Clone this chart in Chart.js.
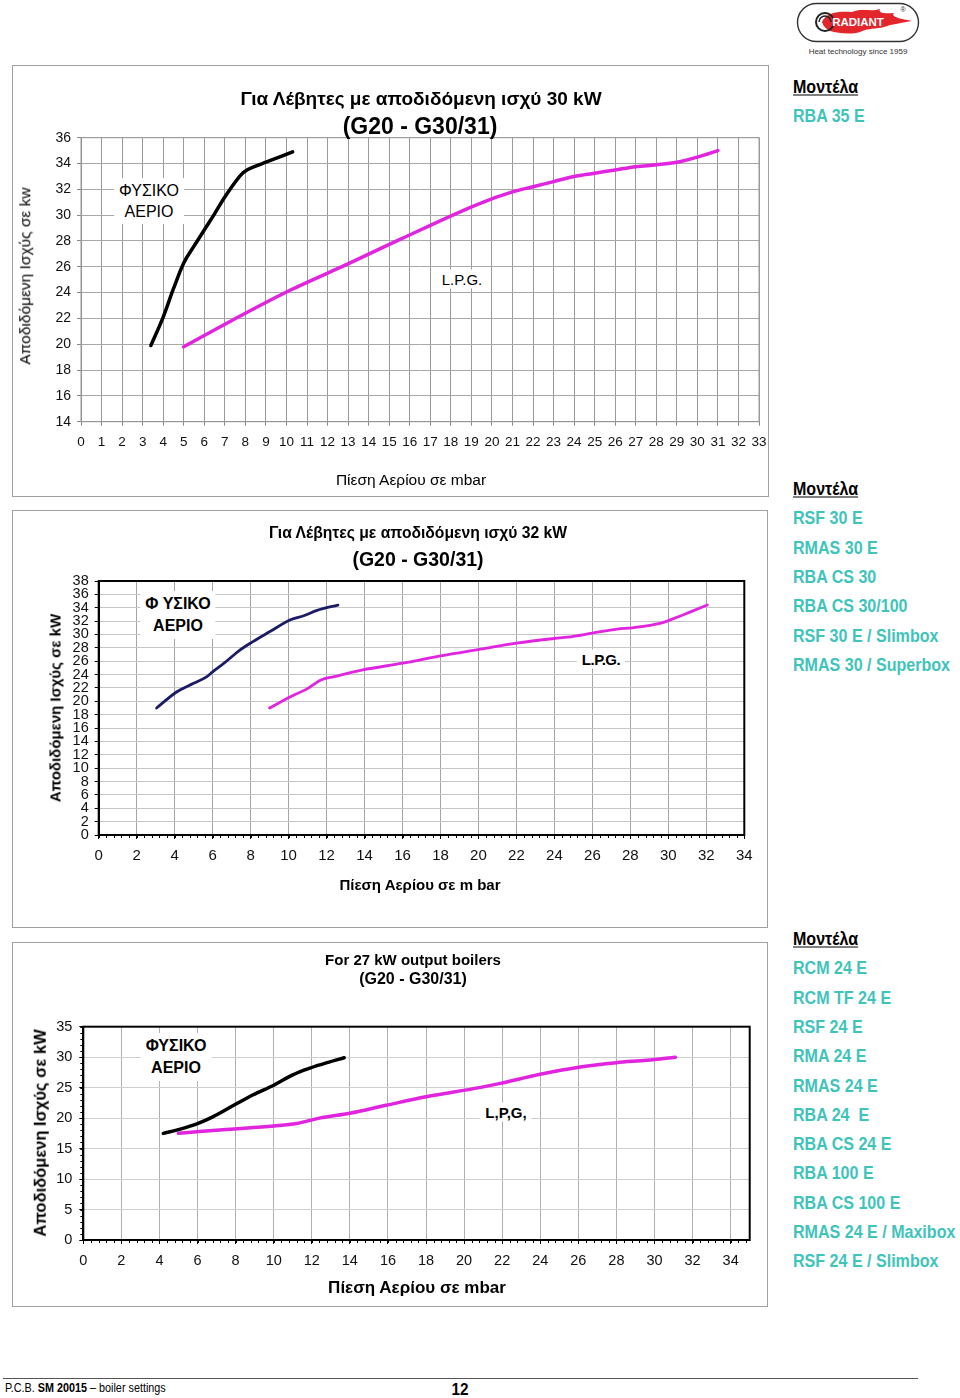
<!DOCTYPE html>
<html><head><meta charset="utf-8">
<script src="https://cdn.jsdelivr.net/npm/chart.js@4/dist/chart.umd.min.js"></script>
<style>
html,body{margin:0;padding:0;background:#fff}
body{width:960px;height:1398px;position:relative;overflow:hidden;font-family:"Liberation Sans",Arial,sans-serif;color:#000}
.frame{position:absolute;border:1px solid #a0a0a0;box-sizing:border-box}
.t{position:absolute;transform:translate(-50%,-50%);white-space:nowrap;line-height:1}
.b{font-weight:bold}
.lbl{background:#fff;padding:2px 5px}
.rot{transform:translate(-50%,-50%) rotate(-90deg)}
.m{position:absolute;left:793px;white-space:nowrap;line-height:1;font-weight:bold;font-size:19px;transform:translateY(-50%) scaleX(0.845);transform-origin:0 50%}
.mh{color:#000;text-decoration:underline;text-underline-offset:2px}
.mi{color:#3fc4bb}
canvas{position:absolute}
</style></head>
<body>

<!-- logo -->
<svg style="position:absolute;left:790px;top:0" width="140" height="60" viewBox="790 0 140 60">
  <rect x="797.5" y="3.5" width="121" height="38" rx="19" fill="#fff" stroke="#333" stroke-width="1.4"/>
  <path d="M822 22 C826 12,840 11,852 12 C862 8,872 12,880 9 C878 13,884 14,894 13 C890 17,902 19,912 21 C902 23,892 24,884 27 C876 29,868 28,860 32 C850 35,838 33,830 31 C826 29,823 26,822 22 Z" fill="#e3262c"/>
  <circle cx="825" cy="22" r="9" fill="none" stroke="#222" stroke-width="2"/>
  <path d="M819 22 a6 6 0 0 1 12 0" fill="none" stroke="#222" stroke-width="1.5"/>
  <text x="858" y="26" text-anchor="middle" font-family="Liberation Sans" font-weight="bold" font-size="11.5" fill="#fff">RADIANT</text>
  <text x="903" y="12" text-anchor="middle" font-family="Liberation Sans" font-size="7" fill="#333">®</text>
  <text x="858" y="54" text-anchor="middle" font-family="Liberation Sans" font-size="8" fill="#333">Heat technology since 1959</text>
</svg>

<div class="frame" style="left:12px;top:65px;width:757px;height:432px"></div>
<div class="frame" style="left:12px;top:510px;width:756px;height:418px"></div>
<div class="frame" style="left:12px;top:942px;width:756px;height:365px"></div>

<canvas id="c1" width="757" height="432" style="left:12px;top:65px"></canvas>
<canvas id="c2" width="756" height="418" style="left:12px;top:510px"></canvas>
<canvas id="c3" width="756" height="365" style="left:12px;top:942px"></canvas>

<!-- chart 1 texts -->
<div class="t b" style="left:421px;top:98px;font-size:19px">Για Λέβητες με αποδιδόμενη ισχύ 30 kW</div>
<div class="t b" style="left:420px;top:126px;font-size:23px">(G20 - G30/31)</div>
<div class="t rot" style="left:25px;top:276px;font-size:15.5px">Αποδιδόμενη Ισχύς σε kw</div>
<div class="t" style="left:411px;top:480px;font-size:15.5px">Πίεση Αερίου σε mbar</div>
<div class="t lbl" style="left:149px;top:201px;font-size:16px;text-align:center;line-height:21px">ΦΥΣΙΚΟ<br>ΑΕΡΙΟ</div>
<div class="t lbl" style="left:462px;top:279px;font-size:15px">L.P.G.</div>

<!-- chart 2 texts -->
<div class="t b" style="left:418px;top:533px;font-size:15.7px">Για Λέβητες με αποδιδόμενη ισχύ 32 kW</div>
<div class="t b" style="left:418px;top:560px;font-size:19.5px">(G20 - G30/31)</div>
<div class="t b rot" style="left:55px;top:708px;font-size:15px">Αποδιδόμενη Ισχύς σε kW</div>
<div class="t b" style="left:420px;top:884px;font-size:15px">Πίεση Αερίου σε m bar</div>
<div class="t b lbl" style="left:178px;top:615px;font-size:16px;text-align:center;line-height:22px">Φ ΥΣΙΚΟ<br>ΑΕΡΙΟ</div>
<div class="t b lbl" style="left:601px;top:659px;font-size:15px;letter-spacing:-0.5px">L.P.G.</div>

<!-- chart 3 texts -->
<div class="t b" style="left:413px;top:959px;font-size:15px">For 27 kW output boilers</div>
<div class="t b" style="left:413px;top:979px;font-size:16px">(G20 - G30/31)</div>
<div class="t b rot" style="left:40px;top:1133px;font-size:16.5px">Αποδιδόμενη Ισχύς σε kW</div>
<div class="t b" style="left:417px;top:1287px;font-size:17px">Πίεση Αερίου σε mbar</div>
<div class="t b lbl" style="left:176px;top:1057px;font-size:16px;text-align:center;line-height:22px">ΦΥΣΙΚΟ<br>ΑΕΡΙΟ</div>
<div class="t b lbl" style="left:506px;top:1112px;font-size:15px">L,P,G,</div>

<div id="models"></div>

<!-- footer -->
<div style="position:absolute;left:3px;top:1378px;width:915px;height:0;border-top:1.5px solid #555"></div>
<div style="position:absolute;left:5px;top:1381px;font-size:12px;white-space:nowrap;transform:scaleX(0.9);transform-origin:0 0">P.C.B. <b>SM 20015</b> – boiler settings</div>
<div class="t b" style="left:460px;top:1389px;font-size:17px;transform:translate(-50%,-50%) scaleX(0.9)">12</div>

<script>
// ---------- DATA ----------
// Chart 1 (30 kW)
const c1GasX = [3.4, 4.0, 4.5, 5.0, 5.5, 6.1, 6.5, 7.0, 7.9, 8.5, 9.0, 10.3];
const c1GasY = [19.9, 22.1, 24.3, 26.3, 27.6, 29.1, 30.1, 31.4, 33.3, 33.8, 34.1, 34.9];
const c1LpgX = [5.0, 8.0, 10.2, 13.1, 15.5, 19.4, 21.0, 22.0, 23.0, 24.0, 25.0, 26.0, 27.0, 28.0, 29.0, 30.0, 31.0];
const c1LpgY = [19.8, 22.4, 24.2, 26.3, 28.1, 30.9, 31.8, 32.2, 32.6, 33.0, 33.25, 33.5, 33.75, 33.9, 34.1, 34.5, 35.0];
// Chart 2 (32 kW)
const c2GasX = [3.05, 4.1, 5.0, 5.7, 6.0, 6.6, 7.4, 8.1, 9.0, 10.1, 10.8, 11.5, 12.6];
const c2GasY = [19.0, 21.4, 22.7, 23.7, 24.4, 25.7, 27.6, 28.9, 30.4, 32.2, 32.8, 33.6, 34.4];
const c2LpgX = [9.0, 10.1, 11.0, 11.7, 12.4, 13.9, 16.0, 18.0, 20.1, 22.0, 24.0, 24.7, 26.0, 27.3, 28.1, 29.6, 30.3, 31.1, 32.05];
const c2LpgY = [19.0, 20.7, 21.9, 23.2, 23.7, 24.7, 25.7, 26.8, 27.8, 28.7, 29.4, 29.6, 30.2, 30.8, 31.0, 31.7, 32.4, 33.3, 34.4];
// Chart 3 (27 kW)
const c3GasX = [4.2, 5.1, 6.0, 6.8, 7.9, 8.9, 10.0, 11.0, 11.9, 12.8, 13.7];
const c3GasY = [17.5, 18.2, 19.1, 20.2, 22.1, 23.8, 25.4, 27.1, 28.2, 29.1, 29.9];
const c3LpgX = [5.0, 6.1, 7.9, 10.0, 11.2, 12.4, 14.0, 15.9, 18.0, 20.8, 21.9, 24.0, 26.1, 28.0, 29.6, 31.1];
const c3LpgY = [17.5, 17.8, 18.2, 18.7, 19.1, 20.0, 20.8, 22.1, 23.5, 25.0, 25.7, 27.2, 28.4, 29.1, 29.5, 30.0];
// axis ranges / ticks
const c1XRange = [0, 33, 1], c1YRange = [14, 36, 2];
const c2XRange = [0, 34, 2], c2YRange = [0, 38, 2];
const c3XRange = [0, 35, 2], c3YRange = [0, 35, 5];
// model lists
const models1 = ["RBA 35 E"];
const models2 = ["RSF 30 E", "RMAS 30 E", "RBA CS 30", "RBA CS 30/100", "RSF 30 E / Slimbox", "RMAS 30 / Superbox"];
const models3 = ["RCM 24 E", "RCM TF 24 E", "RSF 24 E", "RMA 24 E", "RMAS 24 E", "RBA 24  E", "RBA CS 24 E", "RBA 100 E", "RBA CS 100 E", "RMAS 24 E / Maxibox", "RSF 24 E / Slimbox"];

// ---------- models text ----------
(function(){
  const host = document.getElementById('models');
  function block(y0, list){
    const h = document.createElement('div'); h.className='m mh'; h.style.top=y0+'px'; h.textContent='Μοντέλα'; host.appendChild(h);
    list.forEach((s,i)=>{const d=document.createElement('div'); d.className='m mi'; d.style.top=(y0+29.3*(i+1))+'px'; d.textContent=s; d.style.whiteSpace='pre'; host.appendChild(d);});
  }
  block(86, models1); block(488, models2); block(938, models3);
})();

// ---------- charts ----------
Chart.defaults.font.family = "'Liberation Sans', Arial, sans-serif";
Chart.defaults.color = '#111';

const pts = (xs, ys) => xs.map((x, i) => ({x, y: ys[i]}));

const framePlugin = {
  id: 'frameBox',
  afterDraw(chart, args, o) {
    const {ctx, chartArea: a, scales} = chart;
    ctx.save();
    if (o.minor) {
      ctx.strokeStyle = o.minor.color; ctx.lineWidth = 1;
      const xs = scales.x, ys = scales.y;
      if (o.minor.x) {
        for (let v = xs.min; v <= xs.max + 1e-9; v += o.minor.x) {
          const px = Math.round(xs.getPixelForValue(v)) + 0.5;
          ctx.beginPath(); ctx.moveTo(px, a.bottom); ctx.lineTo(px, a.bottom + o.minor.len); ctx.stroke();
        }
      }
      if (o.minor.y) {
        for (let v = ys.min; v <= ys.max + 1e-9; v += o.minor.y) {
          const py = Math.round(ys.getPixelForValue(v)) + 0.5;
          ctx.beginPath(); ctx.moveTo(a.left - o.minor.len, py); ctx.lineTo(a.left, py); ctx.stroke();
        }
      }
    }
    if (o.box) {
      ctx.strokeStyle = o.box.color; ctx.lineWidth = o.box.width;
      ctx.strokeRect(a.left, a.top, a.right - a.left, a.bottom - a.top);
    }
    ctx.restore();
  }
};

function makeChart(id, frame, area, cfg) {
  const yw = 40, xh = 40;
  const pad = {
    left: area.l - frame.x - yw,
    top: area.t - frame.y,
    right: frame.x + frame.w - area.r,
    bottom: frame.y + frame.h - area.b - xh
  };
  const ds = cfg.series.map(s => ({
    data: pts(s.x, s.y), borderColor: s.color, borderWidth: s.width,
    pointRadius: 0, fill: false, cubicInterpolationMode: 'monotone',
    borderCapStyle: 'round', borderJoinStyle: 'round'
  }));
  return new Chart(document.getElementById(id), {
    type: 'line',
    data: {datasets: ds},
    plugins: [framePlugin],
    options: {
      responsive: false, animation: false, devicePixelRatio: 1,
      layout: {padding: pad},
      plugins: {legend: {display: false}, tooltip: {enabled: false}, frameBox: cfg.frame},
      scales: {
        x: {
          type: 'linear', min: cfg.xr[0], max: cfg.xr[1],
          grid: {color: cfg.xGrid, lineWidth: 1, tickLength: 4, tickColor: cfg.tickColor},
          border: {color: cfg.axisColor, width: cfg.axisWidth},
          ticks: {stepSize: cfg.xr[2], autoSkip: false, maxRotation: 0, minRotation: 0, includeBounds: false,
                  font: {size: cfg.xFont}, padding: 8, color: '#111'},
          afterFit(s) { s.height = xh; s.paddingLeft = 0; s.paddingRight = 0; }
        },
        y: {
          type: 'linear', min: cfg.yr[0], max: cfg.yr[1],
          grid: {color: cfg.yGrid, lineWidth: 1, tickLength: 4, tickColor: cfg.tickColor},
          border: {color: cfg.axisColor, width: cfg.axisWidth},
          ticks: {stepSize: cfg.yr[2], autoSkip: false, font: {size: cfg.yFont, lineHeight: 1}, padding: cfg.yPad, color: '#111'},
          afterFit(s) { s.width = yw; s.paddingTop = 0; s.paddingBottom = 0; }
        }
      }
    }
  });
}

const MAG = '#e024e0';

makeChart('c1', {x: 12, y: 65, w: 757, h: 432}, {l: 81, t: 137.7, r: 759, b: 421.7}, {
  xr: c1XRange, yr: c1YRange, xGrid: '#9a9a9a', yGrid: '#a8a8a8', tickColor: '#888',
  axisColor: '#8a8a8a', axisWidth: 1, xFont: 13.5, yFont: 14, yPad: 6,
  frame: {box: {color: '#9a9a9a', width: 1}},
  series: [
    {x: c1GasX, y: c1GasY, color: '#000', width: 3.5},
    {x: c1LpgX, y: c1LpgY, color: MAG, width: 3.5}
  ]
});

makeChart('c2', {x: 12, y: 510, w: 756, h: 418}, {l: 98.7, t: 581, r: 744.3, b: 835}, {
  xr: c2XRange, yr: c2YRange, xGrid: '#a4a4a4', yGrid: '#c6c6c6', tickColor: '#000',
  axisColor: '#000', axisWidth: 2, xFont: 15, yFont: 14.5, yPad: 6,
  frame: {box: {color: '#000', width: 2}, minor: {x: 0.4, y: 0, len: 3, color: '#000'}},
  series: [
    {x: c2GasX, y: c2GasY, color: '#1b1b68', width: 2.8},
    {x: c2LpgX, y: c2LpgY, color: MAG, width: 2.8}
  ]
});

makeChart('c3', {x: 12, y: 942, w: 756, h: 365}, {l: 83.3, t: 1026.7, r: 749.7, b: 1240}, {
  xr: c3XRange, yr: c3YRange, xGrid: '#b0b0b0', yGrid: '#cfcfcf', tickColor: '#000',
  axisColor: '#000', axisWidth: 2, xFont: 14.5, yFont: 14.5, yPad: 7,
  frame: {box: {color: '#000', width: 2}, minor: {x: 0.4, y: 1, len: 3, color: '#000'}},
  series: [
    {x: c3GasX, y: c3GasY, color: '#000', width: 3.5},
    {x: c3LpgX, y: c3LpgY, color: MAG, width: 3.5}
  ]
});
</script>
</body></html>
